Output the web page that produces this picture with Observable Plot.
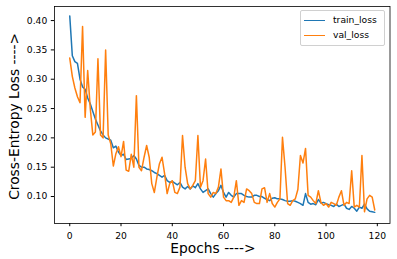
<!DOCTYPE html>
<html>
<head>
<meta charset="utf-8">
<script src="https://cdn.jsdelivr.net/npm/d3@7"></script>
<script src="https://cdn.jsdelivr.net/npm/@observablehq/plot@0.6"></script>
<style>
  html, body { margin: 0; padding: 0; background: #fff; }
  #wrap { position: relative; width: 397px; height: 259px; font-family: "DejaVu Sans", sans-serif; }
  #legend { position: absolute; left: 300px; top: 10px; width: 83px; height: 34px;
    border: 1px solid #d0d0d0; border-radius: 2px; background: rgba(255,255,255,0.85); }
  .entry { position: absolute; left: 0; height: 12px; width: 83px; }
  .sw { position: absolute; left: 3px; width: 21px; height: 0; border-top: 1.5px solid; top: 6px; }
  .lab { position: absolute; left: 32px; top: 0; font-size: 9.2px; line-height: 12px; color: #000; white-space: nowrap; }
</style>
</head>
<body>
<div id="wrap"></div>
<script>
const seriesNames = ["train_loss", "val_loss"];
const seriesColors = ["#1f77b4", "#ff7f0e"];
const xTicks = [0, 20, 40, 60, 80, 100, 120];
const yTicks = [0.10, 0.15, 0.20, 0.25, 0.30, 0.35, 0.40];
const xLabel = "Epochs ---->";
const yLabel = "Cross-Entropy Loss ---->";

const trainLoss = [
  0.408, 0.340, 0.330, 0.327, 0.300, 0.287, 0.283, 0.268, 0.258, 0.245,
  0.232, 0.222, 0.212, 0.205, 0.200, 0.198, 0.196, 0.183, 0.186, 0.176,
  0.170, 0.172, 0.163, 0.164, 0.165, 0.170, 0.164, 0.153, 0.150, 0.150,
  0.147, 0.146, 0.144, 0.141, 0.139, 0.136, 0.133, 0.136, 0.127, 0.124,
  0.126, 0.123, 0.120, 0.124, 0.116, 0.113, 0.117, 0.113, 0.118, 0.115,
  0.122, 0.113, 0.107, 0.110, 0.113, 0.105, 0.099, 0.105, 0.110, 0.119,
  0.107, 0.099, 0.107, 0.102, 0.099, 0.105, 0.105, 0.105, 0.102, 0.100,
  0.099, 0.099, 0.102, 0.102, 0.100, 0.100, 0.097, 0.095, 0.093, 0.097,
  0.098, 0.096, 0.096, 0.095, 0.093, 0.092, 0.092, 0.093, 0.092, 0.090,
  0.088, 0.085, 0.105, 0.090, 0.087, 0.088, 0.086, 0.095, 0.089, 0.090,
  0.088, 0.086, 0.085, 0.083, 0.087, 0.083, 0.085, 0.087, 0.080, 0.078,
  0.083, 0.080, 0.075, 0.082, 0.080, 0.087, 0.079, 0.075, 0.074, 0.073
];

const valLoss = [
  0.336, 0.305, 0.285, 0.270, 0.260, 0.390, 0.235, 0.315, 0.250, 0.205,
  0.210, 0.335, 0.205, 0.200, 0.350, 0.205, 0.190, 0.152, 0.173, 0.185,
  0.168, 0.194, 0.145, 0.143, 0.172, 0.150, 0.272, 0.150, 0.144, 0.167,
  0.187, 0.167, 0.122, 0.107, 0.133, 0.156, 0.167, 0.139, 0.105, 0.122,
  0.127, 0.107, 0.105, 0.116, 0.204, 0.150, 0.122, 0.113, 0.119, 0.127,
  0.204, 0.116, 0.127, 0.164, 0.105, 0.099, 0.107, 0.105, 0.116, 0.147,
  0.099, 0.093, 0.093, 0.090, 0.099, 0.127, 0.085, 0.093, 0.090, 0.113,
  0.110, 0.105, 0.090, 0.088, 0.088, 0.113, 0.115, 0.090, 0.105, 0.088,
  0.082, 0.090, 0.096, 0.201, 0.150, 0.088, 0.085, 0.093, 0.096, 0.112,
  0.170, 0.157, 0.182, 0.102, 0.099, 0.093, 0.088, 0.110, 0.090, 0.085,
  0.088, 0.082, 0.090, 0.088, 0.085, 0.099, 0.110, 0.085, 0.090, 0.088,
  0.144, 0.082, 0.085, 0.082, 0.170, 0.074, 0.096, 0.102, 0.099, 0.077
];

const rows = [];
trainLoss.forEach((v, i) => rows.push({epoch: i, loss: v, series: seriesNames[0]}));
valLoss.forEach((v, i) => rows.push({epoch: i, loss: v, series: seriesNames[1]}));

const chart = Plot.plot({
  width: 397,
  height: 259,
  marginLeft: 54,
  marginRight: 7.5,
  marginTop: 6,
  marginBottom: 36,
  style: {fontFamily: "DejaVu Sans", fontSize: "9.2px", background: "#fff", color: "#000"},
  x: {domain: [-5.95, 124.95]},
  y: {domain: [0.054, 0.424]},
  color: {domain: seriesNames, range: seriesColors},
  marks: [
    Plot.line(rows, {x: "epoch", y: "loss", stroke: "series", z: "series", strokeWidth: 1.5}),
    Plot.frame({stroke: "#000", strokeWidth: 0.8}),
    Plot.axisX({ticks: xTicks, tickSize: 3.2, tickPadding: 5.3, label: null, tickFormat: d => String(d)}),
    Plot.axisY({ticks: yTicks, tickSize: 3.2, tickPadding: 4, label: null, tickFormat: d3.format(".2f")}),
    Plot.text([xLabel], {frameAnchor: "bottom", text: d => d, textAnchor: "middle", dx: -9.3, dy: 24.6, fontSize: 13.8, lineAnchor: "middle", fill: "#000"}),
    Plot.text([yLabel], {frameAnchor: "left", text: d => d, textAnchor: "middle", rotate: -90, dx: -40.1, dy: 1.4, fontSize: 13.8, lineAnchor: "middle", fill: "#000"})
  ]
});

const wrap = document.getElementById("wrap");
wrap.appendChild(chart);

const legend = document.createElement("div");
legend.id = "legend";
seriesNames.forEach((name, i) => {
  const e = document.createElement("div");
  e.className = "entry";
  e.style.top = (3 + i * 15) + "px";
  const sw = document.createElement("div");
  sw.className = "sw";
  sw.style.borderTopColor = seriesColors[i];
  const lab = document.createElement("div");
  lab.className = "lab";
  lab.textContent = name;
  e.appendChild(sw);
  e.appendChild(lab);
  legend.appendChild(e);
});
wrap.appendChild(legend);
</script>
</body>
</html>
